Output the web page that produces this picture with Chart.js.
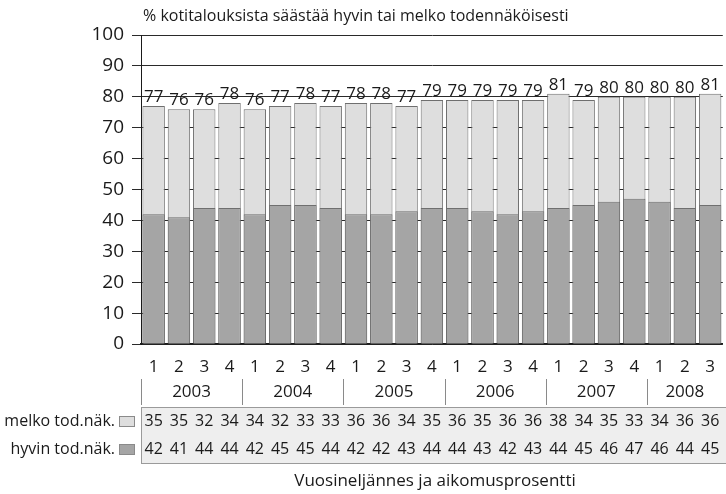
<!DOCTYPE html>
<html>
<head>
<meta charset="utf-8">
<script src="https://cdn.jsdelivr.net/npm/chart.js@4.4.1/dist/chart.umd.min.js"></script>
<style>
  html, body { margin: 0; padding: 0; background: #fff; overflow: hidden; width: 726px; height: 494px; }
  canvas { display: block; }
</style>
</head>
<body>
<canvas id="chart" width="728" height="494"></canvas>
<script>
// Quarter labels under the bars and the year groups they belong to
const quarters = ['1','2','3','4','1','2','3','4','1','2','3','4','1','2','3','4','1','2','3','4','1','2','3'];
const years = ['2003','2004','2005','2006','2007','2008'];

// Share of households (%) that will save: "fairly likely" and "very likely"
const melko = [35,35,32,34,34,32,33,33,36,36,34,35,36,35,36,36,38,34,35,33,34,36,36];
const hyvin = [42,41,44,44,42,45,45,44,42,42,43,44,44,43,42,43,44,45,46,47,46,44,45];
// Combined share printed above each bar
const totals = [77,76,76,78,76,77,78,77,78,78,77,79,79,79,79,79,81,79,80,80,80,80,81];

const seriesNames = ['melko tod.näk.', 'hyvin tod.näk.'];
const titleText = '% kotitalouksista säästää hyvin tai melko todennäköisesti';
const xTitleText = 'Vuosineljännes ja aikomusprosentti';

const FONT = "'Open Sans', 'Noto Sans', sans-serif";
const INK = '#1a1a1a';
const LIGHT = '#dedede';
const DARK = '#a5a5a5';
const EDGE = '#6f6f6f';

const annotations = {
  id: 'annotations',
  afterDatasetsDraw(chart) {
    const { ctx } = chart;
    const xs = chart.scales.x, ys = chart.scales.y;
    ctx.save();
    ctx.fillStyle = INK;
    ctx.textAlign = 'center';
    ctx.textBaseline = 'alphabetic';
    ctx.font = `17px ${FONT}`;
    totals.forEach((v, i) => {
      ctx.fillText(String(v), xs.getPixelForValue(i), ys.getPixelForValue(v) - 4);
    });
    ctx.restore();
  },
  afterDraw(chart) {
    const { ctx } = chart;
    const xs = chart.scales.x;
    const n = quarters.length;
    const step = (xs.right - xs.left) / n;
    const edge = i => xs.left + i * step;

    ctx.save();
    ctx.fillStyle = INK;

    // Title above the plot
    ctx.font = `16px ${FONT}`;
    ctx.textAlign = 'left';
    ctx.textBaseline = 'middle';
    ctx.fillText(titleText, 143, 16);

    // Year row with separators
    ctx.strokeStyle = '#8a8a8a';
    ctx.lineWidth = 1;
    ctx.font = `17px ${FONT}`;
    ctx.textAlign = 'center';
    years.forEach((yr, k) => {
      const a = k * 4, b = Math.min(a + 4, n);
      const xa = Math.round(edge(a)) + 0.5;
      ctx.beginPath();
      ctx.moveTo(xa, 379);
      ctx.lineTo(xa, 405);
      ctx.stroke();
      ctx.fillText(yr, (edge(a) + edge(b)) / 2, 392);
    });

    // Value table
    const tTop = 407, tBot = 463;
    ctx.fillStyle = '#eeeeee';
    ctx.fillRect(xs.left, tTop, xs.right - xs.left + 4, tBot - tTop);
    ctx.strokeStyle = '#9a9a9a';
    ctx.strokeRect(Math.round(xs.left) + 0.5, tTop + 0.5, xs.right - xs.left + 4, tBot - tTop);

    const rows = [{ y: 421, vals: melko, fill: LIGHT, name: seriesNames[0] },
                  { y: 449, vals: hyvin, fill: DARK, name: seriesNames[1] }];
    ctx.font = `16px ${FONT}`;
    rows.forEach(r => {
      ctx.fillStyle = INK;
      ctx.textAlign = 'center';
      r.vals.forEach((v, i) => ctx.fillText(String(v), xs.getPixelForValue(i), r.y));
      ctx.textAlign = 'right';
      ctx.fillText(r.name, 115, r.y);
      ctx.fillStyle = r.fill;
      ctx.fillRect(119, r.y - 5, 15, 10);
      ctx.strokeStyle = '#8a8a8a';
      ctx.strokeRect(119.5, r.y - 4.5, 15, 10);
    });

    // Axis title
    ctx.fillStyle = INK;
    ctx.textAlign = 'center';
    ctx.font = `17px ${FONT}`;
    ctx.fillText(xTitleText, 435, 481);
    ctx.restore();
  }
};

function draw() {
  new Chart(document.getElementById('chart'), {
    type: 'bar',
    data: {
      labels: quarters,
      datasets: [
        {
          label: seriesNames[1],
          data: hyvin,
          backgroundColor: DARK,
          borderColor: EDGE,
          borderWidth: 1,
          grouped: false,
          barPercentage: 1,
          categoryPercentage: 0.886
        },
        {
          label: 'yhteensä',
          data: totals,
          backgroundColor: LIGHT,
          borderColor: EDGE,
          borderWidth: 1,
          grouped: false,
          barPercentage: 1,
          categoryPercentage: 0.886
        }
      ]
    },
    options: {
      responsive: false,
      animation: false,
      events: [],
      layout: { padding: { top: 35, left: 0, right: 0, bottom: 0 } },
      plugins: { legend: { display: false }, tooltip: { enabled: false }, title: { display: false } },
      scales: {
        x: {
          grid: { display: false, drawTicks: false },
          border: { display: true, color: INK, width: 1.5 },
          ticks: { color: INK, font: { family: FONT, size: 17 }, padding: 13, maxRotation: 0, autoSkip: false },
          afterFit(scale) { scale.height = 150; }
        },
        y: {
          min: 0,
          max: 100,
          ticks: { stepSize: 10, color: INK, font: { family: FONT, size: 19 }, padding: 8 },
          grid: { color: '#2a2a2a', lineWidth: 1, tickLength: 9, drawTicks: true },
          border: { display: true, color: INK, width: 1 },
          afterFit(scale) { scale.width = 141; }
        }
      }
    },
    plugins: [annotations]
  });
}

Promise.all([
  document.fonts.load(`16px 'Open Sans'`),
  document.fonts.load(`19px 'Open Sans'`)
]).then(draw, draw);
</script>
</body>
</html>
